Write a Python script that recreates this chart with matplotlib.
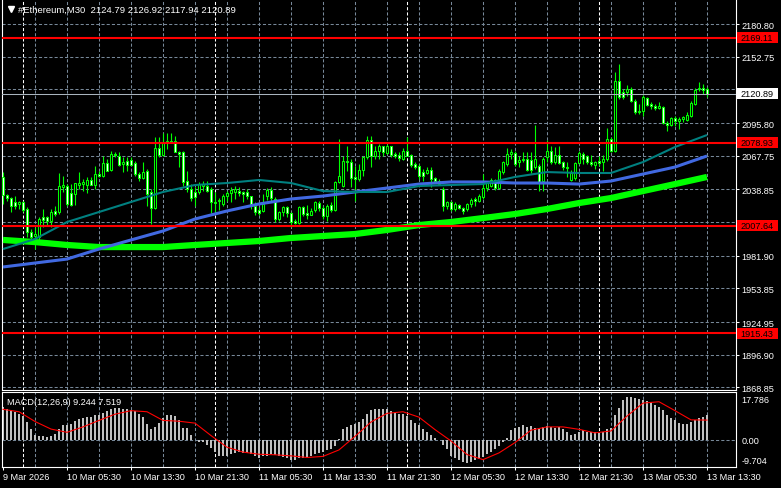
import numpy as np
import matplotlib.pyplot as plt
from matplotlib.patches import Rectangle

plt.rcParams['font.family'] = ['Liberation Sans', 'DejaVu Sans']

# Velas M30 de #Ethereum (apertura, máximo, mínimo, cierre)
apertura = [
    2049.5, 2034.0, 2031.4, 2028.0, 2026.3, 2028.0, 2022.0, 2002.2, 1998.8, 1997.9,
    2015.1, 2015.1, 2011.7, 2020.3, 2019.4, 2040.9, 2041.7, 2035.7, 2034.9, 2042.6,
    2043.4, 2042.6, 2046.9, 2042.6, 2052.0, 2050.3, 2061.5, 2055.5, 2069.2, 2067.5,
    2060.6, 2063.2, 2064.1, 2061.5, 2052.0, 2048.6, 2054.6, 2036.6, 2022.8, 2074.4,
    2068.3, 2079.5, 2080.4, 2080.4, 2070.9, 2070.9, 2046.0, 2039.2, 2036.6, 2036.6,
    2041.7, 2041.7, 2039.2, 2028.0, 2028.8, 2026.3, 2033.1, 2035.7, 2036.6, 2037.4,
    2036.6, 2036.6, 2033.1, 2024.6, 2021.1, 2020.3, 2033.1, 2038.3, 2030.6, 2013.4,
    2019.4, 2023.7, 2018.5, 2011.7, 2010.0, 2023.7, 2018.5, 2016.8, 2021.1, 2027.1,
    2022.8, 2016.0, 2025.4, 2021.1, 2045.2, 2041.7, 2063.2, 2062.3, 2049.5, 2047.7,
    2055.5, 2066.6, 2081.2, 2067.5, 2071.8, 2076.1, 2070.1, 2076.1, 2069.2, 2068.3,
    2064.9, 2071.8, 2068.3, 2060.6, 2058.9, 2053.7, 2052.9, 2055.5, 2048.6, 2046.0,
    2039.2, 2024.6, 2028.0, 2022.0, 2025.4, 2022.8, 2022.0, 2026.3, 2030.6, 2028.8,
    2032.3, 2040.0, 2041.7, 2046.9, 2040.0, 2053.7, 2060.6, 2069.2, 2070.1, 2062.3,
    2064.1, 2064.9, 2064.1, 2058.0, 2058.9, 2046.0, 2066.6, 2071.8, 2062.3, 2068.3,
    2062.3, 2058.0, 2046.9, 2048.6, 2061.5, 2069.2, 2067.5, 2062.3, 2059.8, 2063.2,
    2062.3, 2064.9, 2082.1, 2071.8, 2131.9, 2122.4, 2122.4, 2125.0, 2114.7, 2105.3,
    2106.1, 2117.3, 2112.1, 2110.4, 2108.7, 2109.6, 2095.8, 2094.1, 2100.1, 2097.5,
    2099.3, 2098.4, 2101.8, 2112.1, 2125.0, 2125.9, 2124.79]
maximo = [
    2053.7, 2034.9, 2032.3, 2033.1, 2028.8, 2028.8, 2023.7, 2004.8, 2006.5, 2015.1,
    2022.0, 2016.0, 2022.0, 2024.6, 2052.9, 2050.3, 2043.4, 2043.4, 2044.3, 2053.7,
    2047.7, 2049.5, 2049.5, 2058.9, 2054.6, 2067.5, 2064.9, 2071.8, 2070.9, 2070.9,
    2066.6, 2066.6, 2066.6, 2063.2, 2053.7, 2062.3, 2056.3, 2039.2, 2083.8, 2083.8,
    2087.2, 2087.2, 2087.2, 2084.7, 2071.8, 2071.8, 2054.6, 2043.4, 2040.9, 2045.2,
    2046.0, 2046.0, 2040.9, 2036.6, 2031.4, 2034.9, 2037.4, 2040.9, 2041.7, 2040.9,
    2037.4, 2039.2, 2033.1, 2028.0, 2023.7, 2034.9, 2040.0, 2040.9, 2032.3, 2020.3,
    2024.6, 2024.6, 2019.4, 2013.4, 2024.6, 2024.6, 2025.4, 2022.8, 2028.8, 2028.8,
    2024.6, 2026.3, 2028.0, 2046.0, 2082.1, 2067.5, 2076.1, 2064.9, 2058.9, 2060.6,
    2067.5, 2084.7, 2084.7, 2076.1, 2077.8, 2076.1, 2077.8, 2076.1, 2070.9, 2070.9,
    2074.4, 2083.8, 2069.2, 2062.3, 2060.6, 2056.3, 2058.0, 2058.0, 2049.5, 2047.7,
    2040.9, 2028.8, 2028.8, 2028.0, 2026.3, 2023.7, 2027.1, 2031.4, 2032.3, 2034.9,
    2052.0, 2046.0, 2048.6, 2047.7, 2056.3, 2063.2, 2074.4, 2073.5, 2071.8, 2067.5,
    2070.9, 2070.9, 2070.9, 2094.1, 2060.6, 2066.6, 2081.2, 2076.1, 2075.2, 2076.1,
    2063.2, 2062.3, 2055.5, 2062.3, 2071.8, 2070.9, 2068.3, 2068.3, 2063.2, 2067.5,
    2068.3, 2091.5, 2083.8, 2139.6, 2146.5, 2125.0, 2128.5, 2126.7, 2116.4, 2112.1,
    2119.9, 2118.1, 2113.9, 2112.1, 2113.9, 2110.4, 2097.5, 2101.0, 2101.8, 2101.0,
    2101.8, 2105.3, 2114.7, 2125.9, 2131.0, 2129.3, 2126.92]
minimo = [
    2026.3, 2028.8, 2019.4, 2022.0, 2022.0, 2019.4, 1997.9, 1994.5, 1987.6, 1994.5,
    2006.5, 2007.4, 2006.5, 2016.0, 2017.7, 2036.6, 2024.6, 2024.6, 2025.4, 2039.2,
    2037.4, 2035.7, 2042.6, 2039.2, 2049.5, 2049.5, 2054.6, 2054.6, 2066.6, 2058.9,
    2053.7, 2054.6, 2058.9, 2050.3, 2046.0, 2047.7, 2024.6, 2009.1, 2022.0, 2066.6,
    2067.5, 2073.5, 2078.6, 2070.9, 2058.0, 2041.7, 2036.6, 2028.8, 2024.6, 2034.9,
    2037.4, 2036.6, 2018.5, 2018.5, 2021.1, 2024.6, 2028.8, 2028.0, 2030.6, 2033.1,
    2028.0, 2030.6, 2022.0, 2016.8, 2016.8, 2019.4, 2029.7, 2028.0, 2010.8, 2011.7,
    2016.0, 2015.1, 2006.5, 2009.1, 2009.1, 2016.0, 2013.4, 2016.8, 2019.4, 2020.3,
    2013.4, 2011.7, 2019.4, 2020.3, 2044.3, 2040.9, 2054.6, 2040.9, 2028.8, 2046.0,
    2050.3, 2064.9, 2058.0, 2064.9, 2064.9, 2067.5, 2069.2, 2066.6, 2065.8, 2063.2,
    2064.1, 2067.5, 2058.0, 2056.3, 2047.7, 2046.0, 2052.0, 2040.9, 2045.2, 2042.6,
    2020.3, 2022.0, 2020.3, 2020.3, 2022.0, 2017.7, 2020.3, 2023.7, 2024.6, 2028.0,
    2030.6, 2037.4, 2040.9, 2038.3, 2039.2, 2052.0, 2058.9, 2064.9, 2058.9, 2058.0,
    2062.3, 2054.6, 2052.9, 2056.3, 2037.4, 2037.4, 2062.3, 2060.6, 2060.6, 2060.6,
    2055.5, 2049.5, 2046.0, 2046.9, 2060.6, 2060.6, 2060.6, 2058.9, 2056.3, 2058.9,
    2054.6, 2063.2, 2070.9, 2070.9, 2116.4, 2116.4, 2119.0, 2113.9, 2103.5, 2103.5,
    2101.8, 2110.4, 2107.8, 2107.0, 2107.8, 2095.0, 2089.0, 2093.2, 2093.2, 2090.7,
    2096.7, 2097.5, 2101.0, 2111.3, 2123.3, 2120.7, 2117.94]
cierre = [
    2034.0, 2031.4, 2024.6, 2024.6, 2028.0, 2021.1, 2002.2, 1997.9, 2000.5, 2013.4,
    2012.5, 2011.7, 2019.4, 2017.7, 2041.7, 2042.6, 2026.3, 2025.4, 2044.3, 2044.3,
    2045.2, 2046.9, 2042.6, 2052.0, 2050.3, 2061.5, 2054.6, 2069.2, 2068.3, 2059.8,
    2062.3, 2059.8, 2059.8, 2052.0, 2048.6, 2053.7, 2034.9, 2022.8, 2074.4, 2068.3,
    2079.5, 2080.4, 2079.5, 2070.9, 2069.2, 2045.2, 2039.2, 2031.4, 2032.3, 2043.4,
    2043.4, 2037.4, 2028.0, 2027.1, 2029.7, 2033.1, 2035.7, 2038.3, 2039.2, 2035.7,
    2034.9, 2033.1, 2026.3, 2019.4, 2018.5, 2026.3, 2038.3, 2031.4, 2013.4, 2019.4,
    2023.7, 2018.5, 2010.8, 2010.0, 2023.7, 2017.7, 2016.8, 2020.3, 2028.0, 2022.8,
    2016.0, 2024.6, 2021.1, 2045.2, 2050.3, 2063.2, 2062.3, 2048.6, 2047.7, 2055.5,
    2066.6, 2081.2, 2067.5, 2071.8, 2076.1, 2070.9, 2076.1, 2068.3, 2067.5, 2065.8,
    2071.8, 2067.5, 2059.8, 2058.0, 2050.3, 2050.3, 2055.5, 2047.7, 2046.0, 2043.4,
    2024.6, 2028.0, 2022.0, 2026.3, 2022.8, 2020.3, 2026.3, 2029.7, 2028.8, 2033.1,
    2040.0, 2045.2, 2046.9, 2040.0, 2054.6, 2062.3, 2069.2, 2070.9, 2060.6, 2064.1,
    2064.9, 2055.5, 2055.5, 2064.9, 2045.2, 2064.9, 2071.8, 2062.3, 2068.3, 2061.5,
    2058.0, 2057.2, 2052.9, 2061.5, 2070.1, 2064.9, 2062.3, 2060.6, 2062.3, 2061.5,
    2064.9, 2082.1, 2071.8, 2131.9, 2118.1, 2118.1, 2125.0, 2114.7, 2105.3, 2106.1,
    2118.1, 2111.3, 2110.4, 2108.7, 2110.4, 2095.8, 2094.1, 2100.1, 2097.5, 2099.3,
    2101.0, 2102.7, 2113.0, 2124.2, 2125.9, 2124.2, 2120.89]

# Medias móviles (un valor cada 8 velas)
paso_medias = 8
media_turquesa = [1987.6, 1996.2, 2010.8, 2019.4, 2028.0, 2036.6, 2042.6, 2044.3,
                  2046.9, 2044.3, 2037.4, 2036.6, 2036.6, 2041.7, 2042.6, 2043.4,
                  2049.5, 2053.7, 2052.9, 2052.9, 2062.3, 2075.2, 2085.5]
media_azul = [1972.2, 1975.6, 1979.0, 1987.6, 1995.4, 2003.1, 2013.4, 2020.3,
              2026.3, 2030.6, 2033.1, 2036.6, 2040.0, 2043.4, 2045.2, 2045.2,
              2044.3, 2044.3, 2043.4, 2046.0, 2052.0, 2058.0, 2067.5]
media_verde = [1995.4, 1993.6, 1991.1, 1989.3, 1989.3, 1989.3, 1991.1, 1992.8,
               1994.5, 1997.1, 1998.8, 2000.5, 2004.0, 2008.2, 2010.8, 2014.2,
               2017.7, 2022.0, 2027.1, 2031.4, 2037.4, 2043.4, 2049.5]

# Niveles horizontales
niveles_rojos = [2169.11, 2078.93, 2007.64, 1915.43]
niveles_rejilla = [2180.80, 2152.75, 2124.70, 2095.80, 2067.75, 2038.85,
                   2010.80, 1981.90, 1953.85, 1924.95, 1896.90, 1868.85]
# estas dos quedan tapadas por las cajas de precio
niveles_tapados = [2124.70, 2010.80]

# MACD(12,26,9)
histograma = [
    12.4, 11.5, 11.1, 10.5, 9.9, 9.0, 6.8, 4.3, 1.9, 1.6,
    1.6, 1.2, 1.6, 2.5, 4.1, 5.6, 5.6, 5.9, 7.1, 7.8,
    8.3, 8.5, 8.5, 9.3, 9.5, 10.3, 10.8, 11.5, 12.0, 12.0,
    11.8, 11.5, 11.4, 10.8, 9.9, 8.7, 6.2, 4.3, 5.0, 6.6,
    8.3, 9.3, 9.5, 9.0, 7.4, 4.6, 4.6, 1.9, 0.2, -0.4,
    -0.6, -1.6, -2.8, -4.3, -5.6, -5.6, -5.6, -5.0, -4.6, -4.3,
    -4.6, -4.7, -5.0, -5.6, -6.6, -5.9, -5.6, -5.0, -5.3, -5.8,
    -6.2, -6.6, -7.1, -7.4, -6.6, -6.6, -6.6, -5.6, -5.0, -4.6,
    -4.1, -3.7, -3.3, -1.9, 0.6, 4.1, 5.0, 5.6, 6.2, 6.8,
    8.0, 9.9, 11.1, 11.8, 11.8, 11.8, 11.5, 10.9, 10.2, 9.9,
    9.9, 9.0, 7.4, 6.6, 5.6, 4.3, 3.3, 2.1, 0.9, 0.0,
    -1.6, -3.1, -5.8, -6.6, -7.4, -8.0, -8.3, -7.8, -7.4, -6.8,
    -6.2, -5.0, -4.1, -3.1, -2.1, -0.6, 0.9, 3.7, 4.6, 5.0,
    5.6, 5.0, 5.2, 4.6, 4.1, 5.0, 5.3, 5.0, 4.6, 5.0,
    4.1, 3.3, 2.1, 2.5, 3.3, 3.7, 3.3, 3.3, 3.1, 2.8,
    3.1, 4.3, 4.6, 9.3, 12.0, 14.9, 16.1, 16.1, 15.5, 15.2,
    14.9, 14.5, 14.2, 13.2, 12.4, 11.1, 9.3, 8.3, 7.4, 6.6,
    6.2, 6.2, 6.8, 7.7, 8.3, 8.7, 9.244]
paso_senal = 4
senal = [11.5, 10.6, 7.0, 4.2, 3.0, 5.0, 7.4, 9.7, 11.0, 10.6, 7.4, 7.1, 6.4,
         1.8, -2.5, -4.3, -5.1, -5.3, -5.7, -6.3, -5.9, -3.5, 1.5, 6.8, 10.0,
         10.6, 8.6, 4.0, -0.2, -5.2, -7.1, -4.6, -0.8, 3.8, 5.0, 5.0, 4.1, 2.8,
         3.5, 9.0, 13.8, 14.3, 11.0, 7.6, 7.519]

# Eje de tiempo
marcas_tiempo = [0, 16, 32, 48, 64, 80, 96, 112, 128, 144, 160, 176]
etiquetas_tiempo = ['9 Mar 2026', '10 Mar 05:30', '10 Mar 13:30', '10 Mar 21:30',
                    '11 Mar 05:30', '11 Mar 13:30', '11 Mar 21:30', '12 Mar 05:30',
                    '12 Mar 13:30', '12 Mar 21:30', '13 Mar 05:30', '13 Mar 13:30']
separadores_dia = [5, 53, 101, 149]

FONDO = 'black'
LIMA = '#00ff00'
REJILLA = '#778899'
GUION = (0, (3, 2))
TAM = 6.6

apertura = np.array(apertura)
cierre = np.array(cierre)
x = np.arange(len(cierre))

W, H = 781, 489
fig = plt.figure(figsize=(W / 100, H / 100), dpi=100, facecolor=FONDO)
ax = fig.add_axes([2 / W, 98.5 / H, 733.5 / W, 389.5 / H], facecolor=FONDO)
ax2 = fig.add_axes([2 / W, 21.3 / H, 733.5 / W, 74.4 / H], facecolor=FONDO)

for a in (ax, ax2):
    a.set_xlim(-0.25, 183.125)
    for i in range(8, len(x), 8):
        a.axvline(i, color=REJILLA, lw=0.75, ls=GUION, zorder=1)
    for i in separadores_dia:
        a.axvline(i, color='white', lw=0.75, ls=GUION, zorder=1)
    for lado in a.spines.values():
        lado.set_color('white')
        lado.set_linewidth(0.8)

# --- Panel principal ---
ax.set_ylim(1867.0, 2201.44)
ax.spines['top'].set_visible(False)
for nivel in niveles_rejilla:
    ax.axhline(nivel, color=REJILLA, lw=0.75, ls=GUION, zorder=1)

# velas: mecha lima, cuerpo negro si sube y blanco si baja
ax.vlines(x, minimo, maximo, color=LIMA, lw=0.8, zorder=3)
relleno = np.where(cierre >= apertura, 'black', 'white')
ax.bar(x, cierre - apertura, bottom=apertura, width=0.5, color=relleno,
       edgecolor=LIMA, linewidth=0.75, zorder=4)

xm = np.arange(0, len(x), paso_medias)
ax.plot(xm, media_verde, color=LIMA, lw=4.5, solid_capstyle='butt', zorder=5)
ax.plot(xm, media_azul, color='#4169e1', lw=2.2, solid_capstyle='butt', zorder=5)
ax.plot(xm, media_turquesa, color='#008080', lw=1.5, solid_capstyle='butt', zorder=5)

ax.axhline(cierre[-1], color='#a9b4be', lw=0.75, zorder=6)
for nivel in niveles_rojos:
    ax.axhline(nivel, color='red', lw=1.5, zorder=7)

ax.yaxis.tick_right()
ax.set_yticks(niveles_rejilla)
ax.set_yticklabels(['' if v in niveles_tapados else f'{v:.2f}' for v in niveles_rejilla])
ax.tick_params(axis='y', colors='white', labelsize=TAM, length=2, width=0.75, pad=2)
ax.tick_params(axis='x', bottom=False, labelbottom=False)

# etiquetas de precio en el eje derecho
tr = ax.get_yaxis_transform()
alto = 11 * 0.8587
for nivel, fondo in [(n, 'red') for n in niveles_rojos] + [(cierre[-1], 'white')]:
    ax.add_patch(Rectangle((1.0016, nivel - alto / 2), 0.0559, alto, transform=tr,
                           facecolor=fondo, edgecolor='none', clip_on=False, zorder=20))
    ax.text(1.0016 + 0.0559 / 2, nivel, f'{nivel:.2f}', transform=tr, ha='center',
            va='center', color='black', fontsize=TAM, clip_on=False, zorder=21)

ax.plot([0.0123], [0.977], marker='v', ms=4, color='white', transform=ax.transAxes,
        clip_on=False)
ax.text(0.0222, 0.977, f'#Ethereum,M30  {apertura[-1]:.2f} {maximo[-1]:.2f} '
        f'{minimo[-1]:.2f} {cierre[-1]:.2f}', transform=ax.transAxes, color='white',
        fontsize=TAM + 0.2, va='center', ha='left')

# --- Panel MACD ---
ax2.set_ylim(-9.704, 17.786)
ax2.axhline(0, color=REJILLA, lw=0.75, ls=GUION, zorder=1)
ax2.bar(x, histograma, width=0.7, color='#c0c0c0', zorder=2)
ax2.plot(np.arange(0, len(x), paso_senal), senal, color='red', lw=0.8, zorder=3)

ax2.set_yticks([])
ax2.set_xticks(marcas_tiempo)
ax2.set_xticklabels(etiquetas_tiempo, ha='left')
ax2.tick_params(axis='x', colors='white', labelsize=TAM, length=2.5, width=0.75, pad=1)

tr2 = ax2.get_yaxis_transform()
ax2.text(1.0082, 0.903, '17.786', transform=ax2.transAxes, color='white',
         fontsize=TAM, va='center', ha='left')
ax2.text(1.0082, 0, '0.00', transform=tr2, color='white', fontsize=TAM,
         va='center', ha='left')
ax2.text(1.0082, 0.083, '-9.704', transform=ax2.transAxes, color='white',
         fontsize=TAM, va='center', ha='left')
ax2.text(0.0068, 0.874, f'MACD(12,26,9) {histograma[-1]:.3f} {senal[-1]:.3f}',
         transform=ax2.transAxes, color='white', fontsize=TAM, va='center', ha='left')

fig.savefig('out.png', dpi=100, facecolor=FONDO)
